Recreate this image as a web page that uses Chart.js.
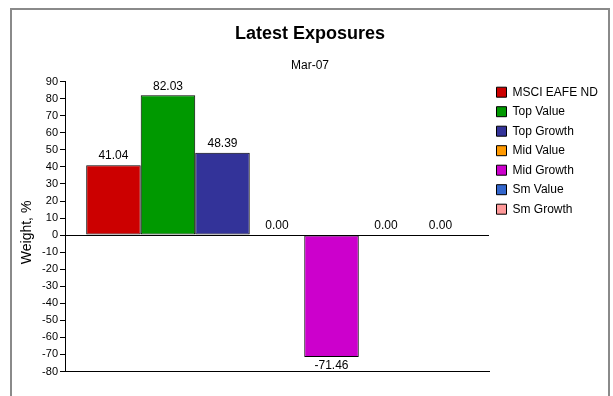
<!DOCTYPE html>
<html>
<head>
<meta charset="utf-8">
<script src="https://cdn.jsdelivr.net/npm/chart.js@4.4.1/dist/chart.umd.min.js"></script>
<style>
  html, body { margin: 0; padding: 0; background: #fff; width: 613px; height: 396px; overflow: hidden; }
  #frame { position: absolute; left: 10px; top: 8px; width: 600px; height: 420px; border: 2px solid #8a8a8a; box-sizing: border-box; }
  #wrap { position: absolute; left: 0; top: 0; width: 613px; height: 396px; }
</style>
</head>
<body>
<div id="frame"></div>
<div id="wrap"><canvas id="c" width="613" height="396"></canvas></div>
<script>
const chartTitle = 'Latest Exposures';
const chartSubtitle = 'Mar-07';
const categories = ['Mar-07'];
const seriesNames = ['MSCI EAFE ND', 'Top Value', 'Top Growth', 'Mid Value', 'Mid Growth', 'Sm Value', 'Sm Growth'];
const seriesValues = [41.04, 82.03, 48.39, 0.00, -71.46, 0.00, 0.00];
const seriesColors = ['#CC0000', '#009900', '#333399', '#FF9900', '#CC00CC', '#3366CC', '#FF9999'];
const yAxisTitle = 'Weight, %';
const yMin = -80, yMax = 90, yStep = 10;

const FONT = 'Liberation Sans, Arial, sans-serif';

const valueLabels = {
  id: 'valueLabels',
  afterDatasetsDraw(chart) {
    const ctx = chart.ctx;
    ctx.save();
    ctx.font = '12px ' + FONT;
    ctx.fillStyle = '#000';
    ctx.textAlign = 'center';
    chart.data.datasets.forEach((ds, i) => {
      const meta = chart.getDatasetMeta(i);
      meta.data.forEach((bar, j) => {
        const v = ds.data[j];
        if (v < 0) {
          ctx.textBaseline = 'top';
          ctx.fillText(v.toFixed(2), bar.x, bar.y + 3);
        } else {
          ctx.textBaseline = 'bottom';
          ctx.fillText(v.toFixed(2), bar.x, bar.y - 3);
        }
      });
    });
    ctx.restore();
  }
};

const legendTweak = {
  id: 'legendTweak',
  afterInit(chart) {
    const lg = chart.legend;
    if (lg && !lg._patched) {
      const orig = lg.fit;
      lg.fit = function () { orig.apply(this, arguments); this.width = 117; };
      lg._patched = true;
    }
  },
  afterLayout(chart) {
    const lg = chart.legend;
    if (lg) { lg.top -= 3; lg.bottom -= 3; }
  }
};

const datasets = seriesNames.map((name, i) => ({
  label: name,
  data: [seriesValues[i]],
  backgroundColor: seriesColors[i],
  borderColor: '#000',
  borderWidth: 1,
  borderSkipped: false,
  categoryPercentage: 0.9,
  barPercentage: 1.0
}));

new Chart(document.getElementById('c'), {
  type: 'bar',
  data: { labels: categories, datasets },
  plugins: [valueLabels, legendTweak],
  options: {
    responsive: false,
    animation: false,
    devicePixelRatio: 1,
    layout: { padding: { left: 14, right: 7, top: 10, bottom: 16.5 } },
    plugins: {
      title: {
        display: true, text: chartTitle, color: '#000',
        font: { family: FONT, size: 18, weight: 'bold' },
        padding: { top: 13.7, bottom: 0 }
      },
      subtitle: {
        display: true, text: chartSubtitle, color: '#000',
        font: { family: FONT, size: 12 },
        padding: { top: 13.5, bottom: 8.5 }
      },
      legend: {
        position: 'right', align: 'start', fullSize: false,
        labels: {
          boxWidth: 10, boxHeight: 10, padding: 7.5, color: '#000',
          font: { family: FONT, size: 12 }
        }
      },
      tooltip: { enabled: false }
    },
    scales: {
      x: {
        ticks: { display: false },
        grid: { display: false },
        border: { display: true, color: '#000', width: 1 }
      },
      y: {
        min: yMin, max: yMax,
        ticks: { stepSize: yStep, color: '#000', font: { family: FONT, size: 11 }, padding: 2 },
        grid: {
          drawOnChartArea: true,
          color: (c) => (c.tick && c.tick.value === 0) ? '#000' : 'rgba(0,0,0,0)',
          tickColor: '#000', tickLength: 5
        },
        border: { display: true, color: '#000', width: 1 },
        title: {
          display: true, text: yAxisTitle + '   ', color: '#000',
          font: { family: FONT, size: 14 }, padding: { top: 5, bottom: 0 }
        },
        afterFit(scale) { scale.width = 51; }
      }
    }
  }
});
</script>
</body>
</html>
